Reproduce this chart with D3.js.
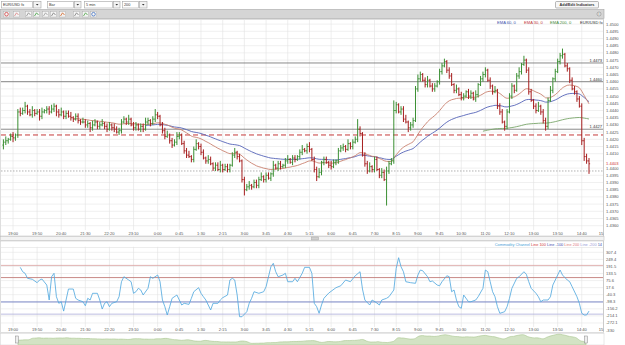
<!DOCTYPE html>
<html>
<head>
<meta charset="utf-8">
<script src="https://cdn.jsdelivr.net/npm/d3@7/dist/d3.min.js"></script>
<style>
html,body{margin:0;padding:0;background:#fff;}
svg{display:block;}
text{font-family:"Liberation Sans",Arial,sans-serif;}
</style>
</head>
<body>
<svg id="chart" width="625" height="345"></svg>
<script>
// ================= DATA =================
const firstBarTime = "18:40";
const barMinutes = 5;

const opens = [
1.4416,1.4418,1.4419,1.4420,1.4422,1.4421,1.4423,1.4439,1.4438,1.4440,
1.4443,1.4439,1.4437,1.4440,1.4438,1.4439,1.4436,1.4439,1.4440,1.4441,
1.4439,1.4441,1.4443,1.4439,1.4437,1.4439,1.4436,1.4438,1.4436,1.4435,
1.4434,1.4436,1.4433,1.4432,1.4432,1.4430,1.4431,1.4428,1.4430,1.4432,
1.4429,1.4430,1.4431,1.4429,1.4427,1.4430,1.4428,1.4427,1.4425,1.4426,
1.4432,1.4434,1.4432,1.4434,1.4430,1.4428,1.4430,1.4427,1.4429,1.4427,
1.4432,1.4433,1.4431,1.4434,1.4437,1.4436,1.4430,1.4426,1.4422,1.4423,
1.4419,1.4416,1.4418,1.4422,1.4423,1.4417,1.4412,1.4409,1.4408,1.4406,
1.4413,1.4417,1.4415,1.4411,1.4407,1.4405,1.4406,1.4403,1.4400,1.4402,
1.4399,1.4402,1.4399,1.4401,1.4399,1.4402,1.4409,1.4411,1.4408,1.4405,
1.4392,1.4385,1.4387,1.4388,1.4387,1.4390,1.4388,1.4392,1.4394,1.4392,
1.4395,1.4393,1.4396,1.4402,1.4400,1.4403,1.4401,1.4402,1.4405,1.4406,
1.4404,1.4407,1.4406,1.4408,1.4411,1.4413,1.4412,1.4415,1.4413,1.4406,
1.4399,1.4394,1.4397,1.4404,1.4406,1.4404,1.4402,1.4401,1.4404,1.4405,
1.4412,1.4414,1.4415,1.4413,1.4417,1.4415,1.4418,1.4420,1.4427,1.4424,
1.4409,1.4403,1.4398,1.4401,1.4399,1.4406,1.4399,1.4395,1.4397,1.4392,
1.4398,1.4403,1.4405,1.4440,1.4444,1.4439,1.4441,1.4434,1.4432,1.4428,
1.4430,1.4433,1.4455,1.4462,1.4465,1.4461,1.4458,1.4461,1.4457,1.4455,
1.4457,1.4460,1.4467,1.4471,1.4474,1.4468,1.4464,1.4458,1.4454,1.4455,
1.4451,1.4449,1.4450,1.4453,1.4450,1.4452,1.4448,1.4451,1.4458,1.4462,
1.4465,1.4468,1.4461,1.4457,1.4453,1.4454,1.4443,1.4439,1.4432,1.4429,
1.4439,1.4450,1.4457,1.4454,1.4464,1.4467,1.4472,1.4475,1.4468,1.4453,
1.4447,1.4443,1.4440,1.4443,1.4439,1.4433,1.4429,1.4447,1.4454,1.4462,
1.4467,1.4474,1.4478,1.4479,1.4471,1.4469,1.4461,1.4455,1.4453,1.4448,
1.4443,1.4419,1.4408,1.4405];

const highs = [
1.4420,1.4422,1.4421,1.4424,1.4425,1.4424,1.4441,1.4442,1.4442,1.4446,
1.4444,1.4441,1.4443,1.4441,1.4441,1.4441,1.4442,1.4441,1.4443,1.4443,
1.4444,1.4445,1.4444,1.4441,1.4442,1.4440,1.4440,1.4440,1.4439,1.4436,
1.4438,1.4438,1.4434,1.4435,1.4434,1.4433,1.4432,1.4433,1.4434,1.4433,
1.4432,1.4434,1.4432,1.4431,1.4432,1.4431,1.4431,1.4429,1.4428,1.4434,
1.4436,1.4435,1.4437,1.4435,1.4432,1.4432,1.4431,1.4431,1.4431,1.4435,
1.4435,1.4434,1.4436,1.4441,1.4439,1.4437,1.4432,1.4428,1.4426,1.4424,
1.4421,1.4420,1.4425,1.4425,1.4424,1.4419,1.4414,1.4412,1.4409,1.4415,
1.4420,1.4418,1.4417,1.4413,1.4408,1.4409,1.4408,1.4404,1.4404,1.4404,
1.4405,1.4403,1.4403,1.4403,1.4403,1.4411,1.4414,1.4412,1.4410,1.4406,
1.4394,1.4389,1.4391,1.4389,1.4392,1.4392,1.4394,1.4397,1.4395,1.4397,
1.4397,1.4397,1.4405,1.4403,1.4405,1.4405,1.4403,1.4407,1.4409,1.4407,
1.4409,1.4409,1.4409,1.4413,1.4416,1.4414,1.4417,1.4418,1.4414,1.4408,
1.4401,1.4400,1.4405,1.4408,1.4408,1.4405,1.4405,1.4406,1.4406,1.4414,
1.4416,1.4417,1.4416,1.4420,1.4418,1.4420,1.4422,1.4434,1.4429,1.4425,
1.4411,1.4405,1.4404,1.4402,1.4408,1.4408,1.4400,1.4400,1.4399,1.4401,
1.4405,1.4407,1.4447,1.4446,1.4445,1.4443,1.4443,1.4437,1.4433,1.4432,
1.4435,1.4457,1.4465,1.4467,1.4466,1.4463,1.4464,1.4462,1.4459,1.4459,
1.4461,1.4469,1.4473,1.4476,1.4475,1.4470,1.4466,1.4459,1.4458,1.4456,
1.4453,1.4452,1.4454,1.4455,1.4454,1.4453,1.4454,1.4459,1.4464,1.4467,
1.4470,1.4469,1.4463,1.4458,1.4457,1.4455,1.4445,1.4441,1.4433,1.4441,
1.4452,1.4459,1.4458,1.4466,1.4470,1.4473,1.4478,1.4476,1.4470,1.4455,
1.4448,1.4445,1.4446,1.4444,1.4441,1.4435,1.4449,1.4457,1.4463,1.4469,
1.4476,1.4480,1.4483,1.4480,1.4473,1.4470,1.4463,1.4457,1.4454,1.4450,
1.4445,1.4421,1.4410,1.4407];

const lows = [
1.4413,1.4416,1.4417,1.4419,1.4418,1.4419,1.4421,1.4436,1.4437,1.4438,
1.4437,1.4436,1.4435,1.4436,1.4437,1.4433,1.4434,1.4438,1.4438,1.4437,
1.4438,1.4439,1.4436,1.4435,1.4436,1.4434,1.4434,1.4435,1.4433,1.4432,
1.4433,1.4431,1.4430,1.4431,1.4428,1.4428,1.4425,1.4426,1.4429,1.4427,
1.4427,1.4429,1.4427,1.4425,1.4426,1.4426,1.4425,1.4424,1.4423,1.4424,
1.4431,1.4430,1.4430,1.4429,1.4426,1.4426,1.4426,1.4425,1.4425,1.4426,
1.4430,1.4429,1.4430,1.4432,1.4434,1.4429,1.4424,1.4420,1.4421,1.4417,
1.4414,1.4415,1.4416,1.4420,1.4416,1.4410,1.4407,1.4407,1.4404,1.4404,
1.4412,1.4413,1.4409,1.4406,1.4403,1.4403,1.4402,1.4398,1.4398,1.4398,
1.4397,1.4397,1.4398,1.4397,1.4397,1.4401,1.4407,1.4406,1.4404,1.4390,
1.4381,1.4384,1.4385,1.4385,1.4386,1.4386,1.4386,1.4391,1.4390,1.4390,
1.4392,1.4391,1.4394,1.4399,1.4398,1.4399,1.4400,1.4400,1.4403,1.4403,
1.4402,1.4404,1.4405,1.4406,1.4409,1.4411,1.4410,1.4411,1.4405,1.4397,
1.4391,1.4393,1.4395,1.4402,1.4403,1.4400,1.4399,1.4400,1.4402,1.4403,
1.4411,1.4412,1.4411,1.4412,1.4413,1.4413,1.4417,1.4418,1.4422,1.4408,
1.4401,1.4396,1.4397,1.4397,1.4397,1.4398,1.4393,1.4393,1.4391,1.4374,
1.4396,1.4402,1.4403,1.4438,1.4438,1.4437,1.4432,1.4431,1.4425,1.4426,
1.4428,1.4432,1.4453,1.4460,1.4460,1.4456,1.4456,1.4456,1.4453,1.4453,
1.4456,1.4458,1.4465,1.4470,1.4466,1.4462,1.4457,1.4452,1.4452,1.4450,
1.4447,1.4447,1.4449,1.4448,1.4448,1.4447,1.4446,1.4449,1.4457,1.4460,
1.4463,1.4460,1.4455,1.4451,1.4452,1.4441,1.4437,1.4431,1.4426,1.4427,
1.4438,1.4448,1.4452,1.4453,1.4462,1.4465,1.4471,1.4466,1.4451,1.4446,
1.4441,1.4438,1.4439,1.4437,1.4431,1.4426,1.4427,1.4446,1.4452,1.4460,
1.4466,1.4472,1.4476,1.4470,1.4467,1.4459,1.4454,1.4451,1.4446,1.4442,
1.4416,1.4405,1.4403,1.4396];

const closes = [
1.4418,1.4419,1.4420,1.4422,1.4421,1.4423,1.4439,1.4438,1.4440,1.4443,
1.4439,1.4437,1.4440,1.4438,1.4439,1.4436,1.4439,1.4440,1.4441,1.4439,
1.4441,1.4443,1.4439,1.4437,1.4439,1.4436,1.4438,1.4436,1.4435,1.4434,
1.4436,1.4433,1.4432,1.4432,1.4430,1.4431,1.4428,1.4430,1.4432,1.4429,
1.4430,1.4431,1.4429,1.4427,1.4430,1.4428,1.4427,1.4425,1.4426,1.4432,
1.4434,1.4432,1.4434,1.4430,1.4428,1.4430,1.4427,1.4429,1.4427,1.4432,
1.4433,1.4431,1.4434,1.4437,1.4436,1.4430,1.4426,1.4422,1.4423,1.4419,
1.4416,1.4418,1.4422,1.4423,1.4417,1.4412,1.4409,1.4408,1.4406,1.4413,
1.4417,1.4415,1.4411,1.4407,1.4405,1.4406,1.4403,1.4400,1.4402,1.4399,
1.4402,1.4399,1.4401,1.4399,1.4402,1.4409,1.4411,1.4408,1.4405,1.4392,
1.4385,1.4387,1.4388,1.4387,1.4390,1.4388,1.4392,1.4394,1.4392,1.4395,
1.4393,1.4396,1.4402,1.4400,1.4403,1.4401,1.4402,1.4405,1.4406,1.4404,
1.4407,1.4406,1.4408,1.4411,1.4413,1.4412,1.4415,1.4413,1.4406,1.4399,
1.4394,1.4397,1.4404,1.4406,1.4404,1.4402,1.4401,1.4404,1.4405,1.4412,
1.4414,1.4415,1.4413,1.4417,1.4415,1.4418,1.4420,1.4427,1.4424,1.4409,
1.4403,1.4398,1.4401,1.4399,1.4406,1.4399,1.4395,1.4397,1.4392,1.4398,
1.4403,1.4405,1.4440,1.4444,1.4439,1.4441,1.4434,1.4432,1.4428,1.4430,
1.4433,1.4455,1.4462,1.4465,1.4461,1.4458,1.4461,1.4457,1.4455,1.4457,
1.4460,1.4467,1.4471,1.4474,1.4468,1.4464,1.4458,1.4454,1.4455,1.4451,
1.4449,1.4450,1.4453,1.4450,1.4452,1.4448,1.4451,1.4458,1.4462,1.4465,
1.4468,1.4461,1.4457,1.4453,1.4454,1.4443,1.4439,1.4432,1.4429,1.4439,
1.4450,1.4457,1.4454,1.4464,1.4467,1.4472,1.4475,1.4468,1.4453,1.4447,
1.4443,1.4440,1.4443,1.4439,1.4433,1.4429,1.4447,1.4454,1.4462,1.4467,
1.4474,1.4478,1.4479,1.4471,1.4469,1.4461,1.4455,1.4453,1.4448,1.4443,
1.4419,1.4408,1.4405,1.4403];

const timeLabels = ["19:00","19:50","20:40","21:30","22:20","23:10","0:00","0:45","1:30","2:15",
  "3:00","3:45","4:30","5:15","6:00","6:45","7:30","8:15","9:00","9:45","10:30","11:20",
  "12:10","13:00","13:50","14:40"];
const edgeTimeLabel = "15";

const priceTicks = [1.4500,1.4495,1.4490,1.4485,1.4480,1.4475,1.4470,1.4465,1.4460,1.4455,
  1.4450,1.4445,1.4440,1.4435,1.4430,1.4425,1.4420,1.4415,1.4410,1.4405,1.4400,1.4395,
  1.4390,1.4385,1.4380,1.4375,1.4370,1.4365,1.4360];

const levelLines = [1.4473, 1.4460, 1.4427];
const dashedLevel = 1.4423;
const dottedLevel = 1.4398;

const emaPeriods = [60, 30, 200];

const cciBars = [7,8,9,10,12,14,15,16,18,19,
20,21,22,23,24,25,26,27,29,30,
31,33,34,35,36,37,39,40,41,42,
43,44,45,47,48,49,50,52,53,54,
55,56,57,58,60,61,62,64,65,66,
67,68,69,70,72,73,74,75,77,78,
79,81,82,83,84,85,86,87,89,90,
91,93,94,95,96,97,98,99,101,102,
103,104,106,108,109,111,112,113,114,116,
117,118,120,121,122,124,125,127,128,129,
130,131,132,133,135,138,140,142,144,146,
148,149,150,152,153,155,156,157,159,160,
162,163,164,165,166,167,169,171,172,173,
174,176,177,178,180,181,182,184,185,186,
187,188,189,190,191,193,194,196,197,199,
200,201,202,203,204,205,206,208,209,210,
211,213,214,216,217,218,219,221,222,223,
224,226,227,228,230,231,232,234,235,236,
238,239,240,241,242,243];

const cciValues = [184,148,135,94,86,58,80,88,39,-84,
107,135,-57,-111,-98,-175,-84,6,6,-70,
-84,-98,-131,-70,-84,-29,-29,-84,-158,-111,
-98,-139,-111,-98,-57,66,107,80,66,-29,
-16,12,-2,-43,12,107,94,121,66,-84,
-139,-207,-139,-70,-43,-84,-125,-111,-120,-70,
-16,17,-29,-57,-84,-125,-166,-111,-111,-84,
-65,-43,80,94,80,-43,-221,-221,-180,-111,
-70,-16,-29,-16,25,189,217,148,107,121,
135,66,66,94,66,135,184,184,135,-111,
-139,-193,-125,-70,-27,17,33,80,66,115,
148,6,-84,-125,-84,-109,-125,-84,-70,-57,
-2,176,263,189,148,66,58,53,121,162,
156,107,66,72,39,33,66,115,107,-16,
-2,-84,-139,-152,-43,-98,-98,-84,-57,12,
162,148,66,-16,-57,-139,-193,-180,-139,-70,
12,94,107,148,127,66,12,-29,-57,-98,
-84,-84,-57,39,121,162,121,80,66,25,
-57,-111,-193,-207,-207,-175];

const cciTicks = [307.4, 249.4, 191.5, 133.5, 75.6, 17.6, -40.3, -98.3, -156.2, -214.1, -272.1, -330];
const cciLevels = [200, 100, -100, -200];
const toolbarLabels = ["EUR/USD fx", "Bar", "5 min", "200"];

// ================= HELPERS =================
function labelIndex(t) {
  const [h, m] = t.split(":").map(Number);
  const [h0, m0] = firstBarTime.split(":").map(Number);
  let mins = h * 60 + m; const start = h0 * 60 + m0;
  if (mins < start) mins += 1440;
  return (mins - start) / barMinutes;
}
function ema(values, n) {
  const k = 2 / (n + 1); const out = []; let e = values[0];
  values.forEach((v, i) => { e = i === 0 ? v : v * k + e * (1 - k); out.push(e); });
  return out;
}

// ================= DRAW =================
const svg = d3.select("#chart");
const n = closes.length;
const x = d3.scaleLinear().domain([0, n - 1]).range([3.4, 589]);
const y = d3.scaleLinear().domain([1.4355, 1.4505]).range([232.9, 16.9]);
const PL = 1, PR = 603, PT = 19.5, PB = 230;
const FS = 4.1;
const fmt4 = d3.format(".4f");

svg.append("rect").attr("width", 625).attr("height", 345).attr("fill", "#fff");

// ---- toolbar row 1 ----
const ddGeom = [[1, 32, 41], [47, 73, 81], [84, 112, 120], [122, 138, 147]];
toolbarLabels.forEach((t, k) => {
  const [a, b, c] = ddGeom[k];
  svg.append("rect").attr("x", a + 0.5).attr("y", 1.5).attr("width", b - a).attr("height", 6.5)
    .attr("fill", "#fff").attr("stroke", "#a4a4a4").attr("stroke-width", 0.6);
  svg.append("rect").attr("x", b + 1.5).attr("y", 1.5).attr("width", c - b - 1.5).attr("height", 6.5)
    .attr("fill", "#f2f2f2").attr("stroke", "#a4a4a4").attr("stroke-width", 0.6);
  svg.append("path").attr("d", `M${(b + 1.5 + c) / 2 - 1.3},4 l2.6,0 l-1.3,1.6z`).attr("fill", "#333");
  svg.append("text").attr("x", a + 2).attr("y", 6.2).attr("font-size", 3.8).attr("fill", "#333").text(t);
});
svg.append("rect").attr("x", 555.5).attr("y", 1.5).attr("width", 43).attr("height", 6.5).attr("rx", 1)
  .attr("fill", "#f7f7f7").attr("stroke", "#8a8a8a").attr("stroke-width", 0.6);
svg.append("text").attr("x", 577).attr("y", 6.1).attr("text-anchor", "middle").attr("font-size", 3.8)
  .attr("font-weight", "bold").attr("fill", "#333").text("Add/Edit Indicators");

// ---- toolbar row 2 ----
svg.append("rect").attr("x", 0.5).attr("y", 9.5).attr("width", 603.5).attr("height", 9)
  .attr("fill", "#d5d5d5").attr("stroke", "#a6a6a6").attr("stroke-width", 0.6);
const iconX = [3, 13, 25, 33, 42, 50, 59, 73, 82, 90];
const iconCol = ["#d04040", "#d88080", "#888", "#3a9a3a", "#999", "#777", "#d06020", "#777", "#48a040", "#4070c0"];
iconX.forEach((ix, k) => {
  svg.append("rect").attr("x", ix + 0.5).attr("y", 11.5).attr("width", 6).attr("height", 5.5)
    .attr("fill", "#f4f4f4").attr("stroke", "#aaa").attr("stroke-width", 0.4);
  if (k === 0 || k === 9) svg.append("circle").attr("cx", ix + 3.5).attr("cy", 14.2).attr("r", 1.8).attr("fill", "none").attr("stroke", iconCol[k]).attr("stroke-width", 0.8);
  else svg.append("path").attr("d", `M${ix + 1.5},${16} L${ix + 3.5},${12.8} L${ix + 5.5},${15}`).attr("fill", "none").attr("stroke", iconCol[k]).attr("stroke-width", 0.8);
});
svg.append("circle").attr("cx", 599).attr("cy", 14).attr("r", 2).attr("fill", "#eee").attr("stroke", "#777").attr("stroke-width", 0.5);
svg.append("text").attr("x", 599).attr("y", 15.3).attr("text-anchor", "middle").attr("font-size", 3.5).attr("fill", "#444").text("i");

// ---- price panel ----
svg.append("rect").attr("x", 0.5).attr("y", 19.5).attr("width", 603).attr("height", 216.5)
  .attr("fill", "#fff").attr("stroke", "#c8c8c8").attr("stroke-width", 0.6);
svg.append("clipPath").attr("id", "pclip").append("rect")
  .attr("x", PL).attr("y", PT).attr("width", PR - PL).attr("height", PB - PT);
const pg = svg.append("g").attr("clip-path", "url(#pclip)");

pg.selectAll("line.hg").data(priceTicks).join("line").attr("class", "hg")
  .attr("x1", PL).attr("x2", PR).attr("y1", d => y(d)).attr("y2", d => y(d))
  .attr("stroke", "#e5e5e5").attr("stroke-width", 0.6);
pg.selectAll("line.vg").data(timeLabels).join("line").attr("class", "vg")
  .attr("x1", d => x(labelIndex(d))).attr("x2", d => x(labelIndex(d))).attr("y1", PT).attr("y2", PB)
  .attr("stroke", "#e2e2e2").attr("stroke-width", 0.6);

// level lines
pg.selectAll("line.lvl").data(levelLines).join("line").attr("class", "lvl")
  .attr("x1", PL).attr("x2", PR).attr("y1", d => y(d)).attr("y2", d => y(d))
  .attr("stroke", "#6c6c6c").attr("stroke-width", 0.8);
pg.append("line").attr("x1", PL).attr("x2", PR).attr("y1", y(dashedLevel)).attr("y2", y(dashedLevel))
  .attr("stroke", "#c53a3a").attr("stroke-width", 1).attr("stroke-dasharray", "5,3");
pg.append("line").attr("x1", PL).attr("x2", PR).attr("y1", y(dottedLevel)).attr("y2", y(dottedLevel))
  .attr("stroke", "#a8a8a8").attr("stroke-width", 0.9).attr("stroke-dasharray", "1.5,1.5");

// EMAs
const emaColors = { 60: "#5563b8", 30: "#c9816f", 200: "#79a66a" };
emaPeriods.forEach(p => {
  const e = ema(closes, p);
  const pts = e.map((v, i) => [i, v]).filter(d => d[0] >= p - 1);
  pg.append("path").datum(pts)
    .attr("d", d3.line().x(d => x(d[0])).y(d => y(d[1])).curve(d3.curveMonotoneX))
    .attr("fill", "none").attr("stroke", emaColors[p]).attr("stroke-width", 0.9);
});

// OHLC bars
const bars = closes.map((c, i) => ({ i, o: opens[i], h: highs[i], l: lows[i], c }));
const bg = pg.append("g");
bars.forEach(b => {
  const col = b.c >= b.o ? "#3b8f33" : "#a61e1e";
  const cx = x(b.i);
  bg.append("line").attr("x1", cx).attr("x2", cx).attr("y1", y(b.h)).attr("y2", y(b.l))
    .attr("stroke", col).attr("stroke-width", 1);
  bg.append("line").attr("x1", cx - 1.1).attr("x2", cx).attr("y1", y(b.o)).attr("y2", y(b.o))
    .attr("stroke", col).attr("stroke-width", 0.9);
  bg.append("line").attr("x1", cx).attr("x2", cx + 1.1).attr("y1", y(b.c)).attr("y2", y(b.c))
    .attr("stroke", col).attr("stroke-width", 0.9);
});

// level labels
svg.selectAll("text.lvl").data(levelLines).join("text").attr("class", "lvl")
  .attr("x", 602).attr("y", d => y(d) - 1.2).attr("text-anchor", "end")
  .attr("font-size", FS).attr("fill", "#333").text(d => fmt4(d));

// legend
const legendItems = [["EMA 60, 0", "#3d52ae", 497], ["EMA 30, 0", "#c23a3a", 524], ["EMA 200, 0", "#3f8a3a", 550], ["EUR/USD fx", "#333", 580]];
legendItems.forEach(([t, c, lx]) => svg.append("text").attr("x", lx).attr("y", 24.2)
  .attr("font-size", FS).attr("fill", c).text(t));

// right border / axis
svg.append("line").attr("x1", 603.5).attr("x2", 603.5).attr("y1", 19.5).attr("y2", 236)
  .attr("stroke", "#bdbdbd").attr("stroke-width", 0.6);
const last = closes[n - 1];
const axisTicks = priceTicks.filter(d => Math.abs(y(d) - y(last)) > 4.2);
svg.selectAll("text.pt").data(axisTicks).join("text").attr("class", "pt")
  .attr("x", 606).attr("y", d => y(d) + 1.5).attr("font-size", FS).attr("fill", "#555").text(d => fmt4(d));
// current price label
svg.append("text").attr("x", 606).attr("y", y(last) + 1.5).attr("font-size", FS).attr("fill", "#d03030").text(fmt4(last));

// time axis (price)
const edgeX = 601;
svg.selectAll("text.t1").data(timeLabels).join("text").attr("class", "t1")
  .attr("x", d => x(labelIndex(d))).attr("y", 234.6).attr("text-anchor", "middle")
  .attr("font-size", FS).attr("fill", "#555").text(d => d);
svg.append("text").attr("x", edgeX).attr("y", 234.6).attr("text-anchor", "middle")
  .attr("font-size", FS).attr("fill", "#555").text(edgeTimeLabel);

// scrollbar
svg.append("rect").attr("x", 0.5).attr("y", 236.5).attr("width", 603.5).attr("height", 4)
  .attr("fill", "#f3f3f3").attr("stroke", "#b8b8b8").attr("stroke-width", 0.5);
svg.append("rect").attr("x", 311.5).attr("y", 237).attr("width", 7).attr("height", 3)
  .attr("fill", "#d0d0d0").attr("stroke", "#999").attr("stroke-width", 0.4);

// ---- CCI panel ----
const cy = d3.scaleLinear().domain([-330, 307.4]).range([330, 252.3]);
const CT = 246.5, CB = 327;
svg.append("rect").attr("x", 0.5).attr("y", 241).attr("width", 603).attr("height", 91.5)
  .attr("fill", "#fff").attr("stroke", "#c8c8c8").attr("stroke-width", 0.6);
svg.append("clipPath").attr("id", "cclip").append("rect")
  .attr("x", PL).attr("y", CT).attr("width", PR - PL).attr("height", CB - CT);
const cg = svg.append("g").attr("clip-path", "url(#cclip)");
cg.selectAll("line.chg").data(cciTicks).join("line").attr("class", "chg")
  .attr("x1", PL).attr("x2", PR).attr("y1", d => cy(d)).attr("y2", d => cy(d))
  .attr("stroke", "#e5e5e5").attr("stroke-width", 0.6);
cg.append("line").attr("x1", PL).attr("x2", PR).attr("y1", CT + 1).attr("y2", CT + 1).attr("stroke", "#e0e0e0").attr("stroke-width", 0.6);
cg.selectAll("line.cvg").data(timeLabels).join("line").attr("class", "cvg")
  .attr("x1", d => x(labelIndex(d))).attr("x2", d => x(labelIndex(d))).attr("y1", CT).attr("y2", CB)
  .attr("stroke", "#e2e2e2").attr("stroke-width", 0.6);
const cciLevelColors = { "200": "#dcaaa8", "100": "#c27c78", "-100": "#6f7ec4", "-200": "#b6b6de" };
cg.selectAll("line.clv").data(cciLevels).join("line").attr("class", "clv")
  .attr("x1", PL).attr("x2", PR).attr("y1", d => cy(d)).attr("y2", d => cy(d))
  .attr("stroke", d => cciLevelColors[d]).attr("stroke-width", 0.9);
const cciPts = cciBars.map((b, k) => [b, cciValues[k]]);
cg.append("path").datum(cciPts)
  .attr("d", d3.line().x(d => x(d[0])).y(d => cy(d[1])))
  .attr("fill", "none").attr("stroke", "#55aadf").attr("stroke-width", 0.85);
svg.append("line").attr("x1", 603.5).attr("x2", 603.5).attr("y1", 241).attr("y2", 332.5)
  .attr("stroke", "#bdbdbd").attr("stroke-width", 0.6);
const cfmt = v => Number.isInteger(v) ? String(v) : v.toFixed(1);
svg.selectAll("text.ct").data(cciTicks).join("text").attr("class", "ct")
  .attr("x", 606).attr("y", d => cy(d) + 1.5).attr("font-size", FS).attr("fill", "#555").text(d => cfmt(d));
svg.selectAll("text.t2").data(timeLabels).join("text").attr("class", "t2")
  .attr("x", d => x(labelIndex(d))).attr("y", 331).attr("text-anchor", "middle")
  .attr("font-size", FS).attr("fill", "#555").text(d => d);
svg.append("text").attr("x", edgeX).attr("y", 331).attr("text-anchor", "middle")
  .attr("font-size", FS).attr("fill", "#555").text(edgeTimeLabel);

// CCI legend
const cciLegend = [["Commodity Channel ", "#4a9fd8"], ["Line 100 ", "#d03a3a"], ["Line -100 ", "#3e4fb0"],
  ["Line 200 ", "#e07a7a"], ["Line -200 ", "#9a9ad8"], ["14", "#3e4fb0"]];
const lt = svg.append("text").attr("x", 602).attr("y", 245.6).attr("text-anchor", "end").attr("font-size", 3.9);
cciLegend.forEach(([t, c]) => lt.append("tspan").attr("fill", c).text(t));

// ---- navigator ----
svg.append("rect").attr("x", 0.5).attr("y", 333.5).attr("width", 603.5).attr("height", 11.5)
  .attr("fill", "#fff").attr("stroke", "#d0d0d0").attr("stroke-width", 0.5);
const nx = d3.scaleLinear().domain([0, n - 1]).range([18, 586]);
const ny = d3.scaleLinear().domain([1.4370, 1.4485]).range([345, 333.5]);
svg.append("path").datum(closes)
  .attr("d", d3.area().x((d, i) => nx(i)).y0(345).y1(d => ny(d)).curve(d3.curveBasis))
  .attr("fill", "#d3e3c4").attr("stroke", "#a9c690").attr("stroke-width", 0.6);
[17, 586].forEach(hx => {
  svg.append("rect").attr("x", hx - 1.5).attr("y", 336).attr("width", 3).attr("height", 7)
    .attr("fill", "#eee").attr("stroke", "#888").attr("stroke-width", 0.5);
});
</script>
</body>
</html>
